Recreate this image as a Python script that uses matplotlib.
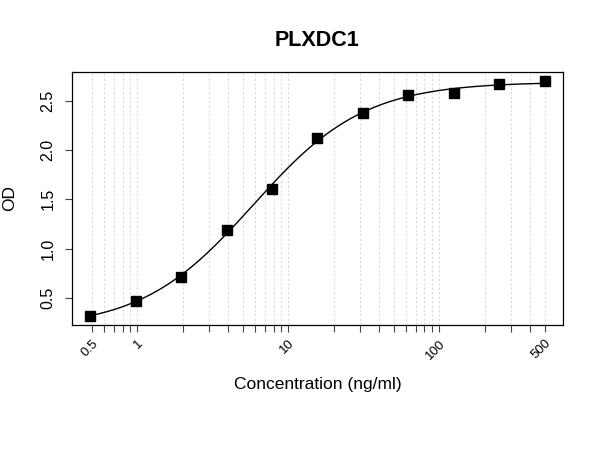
import numpy as np
import matplotlib
matplotlib.use("Agg")
import matplotlib.pyplot as plt

# ---------- data ----------
conc = [500 / 2**k for k in range(10, -1, -1)]   # 2-fold serial dilution from 500 ng/ml
od = [0.32, 0.465, 0.71, 1.19, 1.60, 2.125, 2.375, 2.555, 2.58, 2.665, 2.695]

tick_major = [0.5, 1, 10, 100, 500]
tick_labels = ["0.5", "1", "10", "100", "500"]
tick_all = [0.5, 0.6, 0.7, 0.8, 0.9, 1, 2, 3, 4, 5, 6, 7, 8, 9, 10,
            20, 30, 40, 50, 60, 70, 80, 90, 100, 200, 300, 400, 500]
y_ticks = [0.5, 1.0, 1.5, 2.0, 2.5]


# ---------- 4PL fit (simple Levenberg-Marquardt) ----------
def four_pl(x, a, b, c, d):
    return d + (a - d) / (1 + (x / c) ** b)


def fit_4pl(x, y, p):
    p = np.array(p, dtype=float)
    lam = 1e-3
    for _ in range(500):
        r = y - four_pl(x, *p)
        J = np.empty((len(x), 4))
        for i in range(4):
            h = 1e-6 * max(abs(p[i]), 1e-3)
            dp = p.copy()
            dp[i] += h
            J[:, i] = (four_pl(x, *dp) - four_pl(x, *p)) / h
        A = J.T @ J
        step = np.linalg.solve(A + lam * np.diag(np.diag(A)), J.T @ r)
        new = p + step
        if np.sum((y - four_pl(x, *new)) ** 2) < np.sum(r ** 2):
            p = new
            lam *= 0.5
        else:
            lam *= 4
    return p


x = np.array(conc)
y = np.array(od)
params = fit_4pl(x, y, [0.25, 1.3, 7.0, 2.7])
xs = np.logspace(np.log10(x.min()), np.log10(x.max()), 400)

# ---------- plot ----------
plt.rcParams['font.family'] = ['Liberation Sans', 'DejaVu Sans']
fig = plt.figure(figsize=(6, 4.5), dpi=100)
ax = fig.add_axes([0.12, 0.2778, 0.818, 0.5622])

ax.set_xscale("log")
for t in tick_all:
    ax.axvline(t, color="#d9d9d9", linestyle=(0, (2, 2)), linewidth=0.8, zorder=0)

ax.plot(xs, four_pl(xs, *params), color="black", linewidth=1.0, zorder=2)
ax.plot(conc, od, "s", color="black", markersize=7.5, zorder=3)

lx = np.log10(x.min()), np.log10(x.max())
pad = 0.04 * (lx[1] - lx[0])
ax.set_xlim(10 ** (lx[0] - pad), 10 ** (lx[1] + pad))
ypad = 0.04 * (y.max() - y.min())
ax.set_ylim(y.min() - ypad, y.max() + ypad)

ax.set_xticks(tick_all)
ax.set_xticklabels([tick_labels[tick_major.index(t)] if t in tick_major else "" for t in tick_all],
                   rotation=45, ha="right", va="top", rotation_mode="anchor", fontsize=9.5)
ax.xaxis.set_minor_locator(matplotlib.ticker.NullLocator())
ax.set_yticks(y_ticks)
ax.set_yticklabels([f"{v:.1f}" for v in y_ticks], rotation=90, va="center", fontsize=11.5)
ax.tick_params(length=5, width=0.8, color="#444444", pad=4)
ax.tick_params(axis="y", pad=7)

for s in ax.spines.values():
    s.set_linewidth(0.9)

ax.set_title("PLXDC1", fontsize=15.5, fontweight="bold", pad=19)
ax.set_xlabel("Concentration (ng/ml)", fontsize=12.5, labelpad=11)
ax.set_ylabel("OD", fontsize=12.5, labelpad=17)

fig.savefig("out.png", dpi=100)
